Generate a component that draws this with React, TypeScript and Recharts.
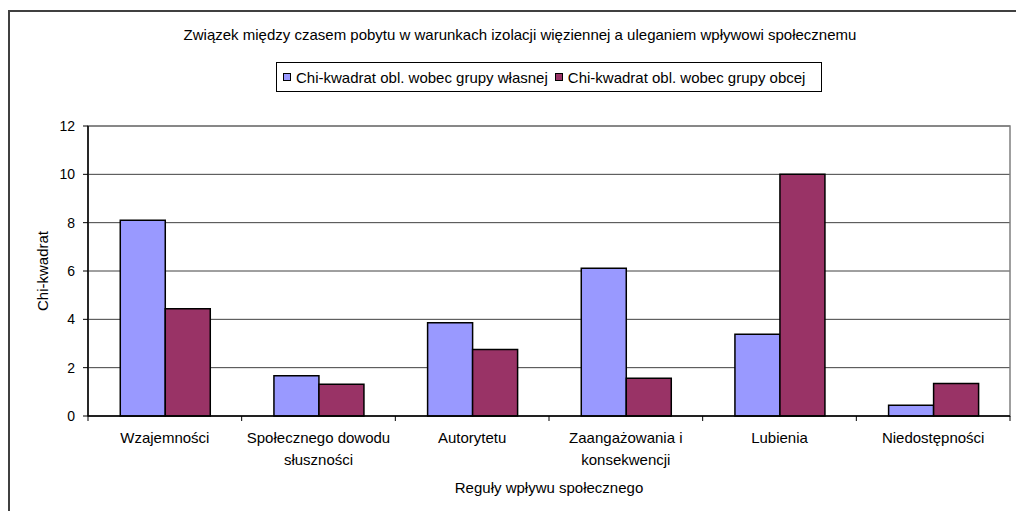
import React from 'react';
import { BarChart, Bar, XAxis, YAxis, CartesianGrid, Legend, ReferenceArea, Text } from 'recharts';

const categories = [
  'Wzajemności',
  'Społecznego dowodu słuszności',
  'Autorytetu',
  'Zaangażowania i konsekwencji',
  'Lubienia',
  'Niedostępności',
];
const ownGroup = [8.1, 1.67, 3.86, 6.11, 3.38, 0.44];
const otherGroup = [4.44, 1.31, 2.75, 1.56, 10.0, 1.35];
const yTicks = [0, 2, 4, 6, 8, 10, 12];

const ownName = 'Chi-kwadrat obl. wobec grupy własnej';
const otherName = 'Chi-kwadrat obl. wobec grupy obcej';
const title = 'Związek między czasem pobytu w warunkach izolacji więziennej a uleganiem wpływowi społecznemu';
const xTitle = 'Reguły wpływu społecznego';
const yTitle = 'Chi-kwadrat';

const data = categories.map((c, i) => ({ name: c, own: ownGroup[i], other: otherGroup[i] }));

const FONT = 'Arial, "Liberation Sans", sans-serif';
const BLUE = '#9999FF';
const RED = '#993366';
const FS = 15;

const TICK_SIZE = 5;
const TICK_MARGIN = 11;

function CategoryTick(props: any) {
  const { x, y, payload, index, visibleTicksCount } = props;
  const half = payload && payload.offset ? payload.offset : 76.8;
  const axisY = y - TICK_SIZE - TICK_MARGIN;
  const isLast = index === (visibleTicksCount ?? categories.length) - 1;
  return (
    <g>
      <line x1={x - half} x2={x - half} y1={axisY} y2={axisY + TICK_SIZE} stroke="#000" strokeWidth={1} />
      {isLast && (
        <line x1={x + half} x2={x + half} y1={axisY} y2={axisY + TICK_SIZE} stroke="#000" strokeWidth={1} />
      )}
      <Text
        x={x}
        y={y}
        width={162}
        textAnchor="middle"
        verticalAnchor="start"
        lineHeight={22}
        fill="#000"
        style={{ fontSize: FS, fontFamily: FONT }}
      >
        {payload.value}
      </Text>
    </g>
  );
}

function YTitle(props: any) {
  const vb = props.viewBox || {};
  const cx = 42;
  const cy = (vb.y ?? 126) + (vb.height ?? 290) / 2;
  return (
    <text
      x={cx}
      y={cy}
      transform={`rotate(-90, ${cx}, ${cy})`}
      textAnchor="middle"
      dominantBaseline="central"
      style={{ fontSize: FS, fontFamily: FONT }}
      fill="#000"
    >
      {yTitle}
    </text>
  );
}

function XTitle(props: any) {
  const vb = props.viewBox || {};
  const cx = (vb.x ?? 88) + (vb.width ?? 922) / 2;
  const cy = 487;
  return (
    <text x={cx} y={cy} textAnchor="middle" dominantBaseline="central" style={{ fontSize: FS, fontFamily: FONT }} fill="#000">
      {xTitle}
    </text>
  );
}

function LegendBox() {
  const item = (color: string, label: string, ml: number) => (
    <div style={{ display: 'flex', alignItems: 'center', marginLeft: ml }}>
      <div style={{ width: 6, height: 6, background: color, border: '1px solid #000', marginRight: 5 }} />
      <span>{label}</span>
    </div>
  );
  return (
    <div
      style={{
        boxSizing: 'border-box',
        width: 546,
        height: 30,
        border: '1px solid #000',
        background: '#fff',
        display: 'flex',
        alignItems: 'center',
        fontFamily: FONT,
        fontSize: FS,
        color: '#000',
        whiteSpace: 'nowrap',
      }}
    >
      {item(BLUE, ownName, 6)}
      {item(RED, otherName, 7)}
    </div>
  );
}

export default function App() {
  return (
    <div style={{ position: 'relative', width: 1016, height: 511, overflow: 'hidden', background: '#fff' }}>
      <style>{'html,body{margin:0;padding:0;overflow:hidden;}'}</style>
      <div
        style={{
          position: 'absolute',
          left: 8,
          top: 10,
          width: 1100,
          height: 600,
          borderLeft: '2px solid #404040',
          borderTop: '2px solid #404040',
        }}
      />
      <div
        style={{
          position: 'absolute',
          left: 0,
          width: 1040,
          top: 26,
          textAlign: 'center',
          fontFamily: FONT,
          fontSize: FS,
          color: '#000',
          whiteSpace: 'nowrap',
        }}
      >
        {title}
      </div>
      <div style={{ position: 'absolute', left: 0, top: 0 }}>
        <BarChart
          width={1016}
          height={511}
          data={data}
          margin={{ top: 96, right: 6, left: 0, bottom: 35 }}
          barCategoryGap="21%"
          barGap={0}
        >
          <ReferenceArea y1={0} y2={12} fill="none" stroke="#808080" strokeWidth={1.5} ifOverflow="visible" />
          <CartesianGrid horizontal vertical={false} stroke="#404040" strokeWidth={1} />
          <XAxis
            dataKey="name"
            height={60}
            interval={0}
            tickLine={false}
            tickSize={TICK_SIZE}
            tickMargin={TICK_MARGIN}
            axisLine={{ stroke: '#000', strokeWidth: 1.5 }}
            tick={<CategoryTick />}
            label={<XTitle />}
          />
          <YAxis
            width={88}
            domain={[0, 12]}
            ticks={yTicks}
            interval={0}
            tickSize={TICK_SIZE}
            tickMargin={8}
            tickLine={{ stroke: '#000' }}
            axisLine={{ stroke: '#000', strokeWidth: 1.5 }}
            tick={{ fill: '#000', fontSize: 14, fontFamily: FONT }}
            label={<YTitle />}
          />
          <Legend
            verticalAlign="top"
            content={<LegendBox />}
            wrapperStyle={{ left: 276, top: 62, width: 546, height: 30 }}
          />
          <Bar dataKey="own" name={ownName} fill={BLUE} stroke="#000" strokeWidth={1.5} isAnimationActive={false} />
          <Bar dataKey="other" name={otherName} fill={RED} stroke="#000" strokeWidth={1.5} isAnimationActive={false} />
        </BarChart>
      </div>
    </div>
  );
}
